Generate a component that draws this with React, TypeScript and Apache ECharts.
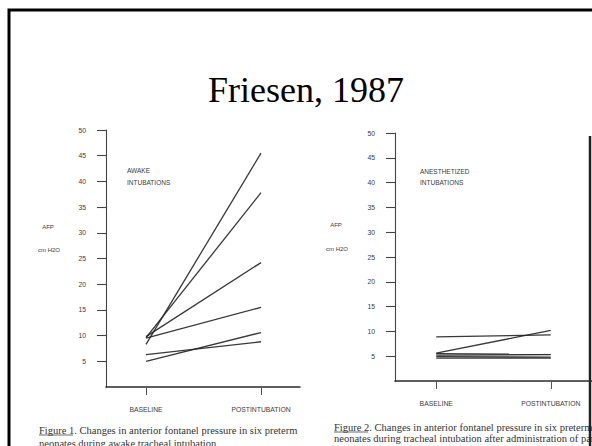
import React, { useEffect, useRef } from "react";
import * as echarts from "echarts";

const categories = ["BASELINE", "POSTINTUBATION"];
const awakeBaseline = [8.3, 9.6, 9.8, 9.5, 5.0, 6.3];
const awakePost = [45.5, 37.8, 24.2, 15.5, 10.6, 8.8];
const anesBaseline = [8.9, 5.6, 5.5, 5.2, 4.9, 4.6];
const anesPost = [9.3, 10.2, 5.4, 5.3, 4.8, 4.6];
const yTicks = [5, 10, 15, 20, 25, 30, 35, 40, 45, 50];
const titleText = "Friesen, 1987";
const panelLabels = [["AWAKE", "INTUBATIONS"], ["ANESTHETIZED", "INTUBATIONS"]];
const yNames = ["AFP", "cm H2O"];
const caption1 = [
  "Figure 1. Changes in anterior fontanel pressure in six preterm",
  "neonates during awake tracheal intubation.",
];
const caption2 = [
  "Figure 2. Changes in anterior fontanel pressure in six preterm",
  "neonates during tracheal intubation after administration of pancuronium.",
];

const INK = "#222";
const SCAN = "#3a3a3a";
const SANS = "'Liberation Sans', Arial, sans-serif";
const SERIF = "'Liberation Serif', 'Times New Roman', serif";

function makeX(gridIndex: number, min: number, max: number) {
  return {
    type: "value",
    gridIndex,
    min,
    max,
    axisLine: { show: true, onZero: false, lineStyle: { color: "#2a2a2a", width: 1.6 } },
    axisTick: { show: true, customValues: [0, 1], length: 8, lineStyle: { color: "#555", width: 1 } },
    axisLabel: {
      show: true,
      customValues: [0, 1],
      formatter: (v: number) => categories[Math.round(v)] ?? "",
      margin: 19,
      fontSize: 6.8,
      fontFamily: SANS,
      color: SCAN,
    },
    splitLine: { show: false },
  };
}

function makeY(gridIndex: number) {
  return {
    type: "value",
    gridIndex,
    min: 0,
    max: 50,
    interval: 5,
    axisLine: { show: true, onZero: false, lineStyle: { color: "#444", width: 1.1 } },
    axisTick: { show: true, customValues: yTicks, length: 9, lineStyle: { color: "#444", width: 1.1 } },
    axisLabel: {
      show: true,
      customValues: yTicks,
      margin: 20,
      fontSize: 6.8,
      fontFamily: SANS,
      color: SCAN,
    },
    splitLine: { show: false },
  };
}

function makeSeries(base: number[], post: number[], idx: number) {
  return base.map((b, i) => ({
    type: "line",
    xAxisIndex: idx,
    yAxisIndex: idx,
    data: [
      [0, b],
      [1, post[i]],
    ],
    symbol: "none",
    lineStyle: { color: INK, width: 1.3, opacity: 0.9 },
    silent: true,
  }));
}

function txt(text: string, x: number, y: number, size: number, font: string, align = "left", color = SCAN) {
  return {
    type: "text",
    x,
    y,
    silent: true,
    style: { text, fontSize: size, fontFamily: font, fill: color, align, verticalAlign: "middle" },
  };
}

export default function App() {
  const ref = useRef<HTMLDivElement>(null);
  useEffect(() => {
    if (!ref.current) return;
    const chart = echarts.init(ref.current, null, { renderer: "svg" });
    const option = {
      animation: false,
      backgroundColor: "#ffffff",
      grid: [
        { left: 106, top: 130, width: 194, height: 257, containLabel: false },
        { left: 395, top: 133, width: 205, height: 248, containLabel: false },
      ],
      xAxis: [makeX(0, -0.348, 1.339), makeX(1, -0.36, 1.36)],
      yAxis: [makeY(0), makeY(1)],
      series: [...makeSeries(awakeBaseline, awakePost, 0), ...makeSeries(anesBaseline, anesPost, 1)],
      graphic: [
        {
          type: "rect",
          silent: true,
          shape: { x: 9, y: 10, width: 700, height: 600 },
          style: { fill: "none", stroke: "#000", lineWidth: 3 },
        },
        txt(titleText, 306, 90, 36, SERIF, "center", "#000"),
        txt(panelLabels[0][0], 127, 170, 6.5, SANS),
        txt(panelLabels[0][1], 127, 182, 6.5, SANS),
        txt(panelLabels[1][0], 420, 171, 6.5, SANS),
        txt(panelLabels[1][1], 420, 182, 6.5, SANS),
        txt(yNames[0], 48, 227, 6, SANS, "center"),
        txt(yNames[1], 49, 250, 6, SANS, "center"),
        txt(yNames[0], 336, 225, 6, SANS, "center"),
        txt(yNames[1], 337, 249, 6, SANS, "center"),
        txt(caption1[0], 39, 430, 10.5, SERIF, "left", "#333"),
        txt(caption1[1], 39, 443, 10.5, SERIF, "left", "#333"),
        txt(caption2[0], 334, 427, 10.5, SERIF, "left", "#333"),
        txt(caption2[1], 334, 438, 10.5, SERIF, "left", "#333"),
        {
          type: "line",
          silent: true,
          shape: { x1: 39, y1: 435, x2: 73, y2: 435 },
          style: { stroke: "#444", lineWidth: 0.8 },
        },
        {
          type: "line",
          silent: true,
          shape: { x1: 334, y1: 432, x2: 368, y2: 432 },
          style: { stroke: "#444", lineWidth: 0.8 },
        },
        {
          type: "line",
          silent: true,
          shape: { x1: 590, y1: 136, x2: 590, y2: 446 },
          style: { stroke: "#222", lineWidth: 2.5 },
        },
      ],
    };
    chart.setOption(option as any);
    return () => chart.dispose();
  }, []);
  return (
    <div
      ref={ref}
      style={{ position: "fixed", left: 0, top: 0, width: 592, height: 446, background: "#fff" }}
    />
  );
}
